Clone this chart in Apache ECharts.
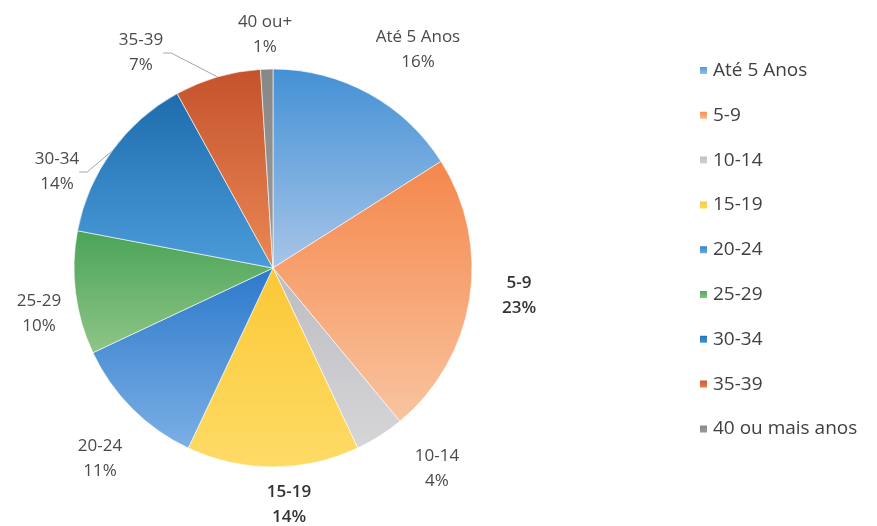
<!DOCTYPE html>
<html>
<head>
<meta charset="utf-8">
<script src="https://cdn.jsdelivr.net/npm/echarts@6/dist/echarts.min.js"></script>
<style>
  html, body { margin: 0; padding: 0; background: #ffffff; }
  #chart { width: 877px; height: 526px; }
</style>
</head>
<body>
<div id="chart"></div>
<script>
// Faixas etárias (legenda) e rótulos curtos usados nas fatias
const categories = ['Até 5 Anos', '5-9', '10-14', '15-19', '20-24', '25-29', '30-34', '35-39', '40 ou mais anos'];
const sliceLabels = ['Até 5 Anos', '5-9', '10-14', '15-19', '20-24', '25-29', '30-34', '35-39', '40 ou+'];
// Percentual de cada faixa
const shares = [16, 23, 4, 14, 11, 10, 14, 7, 1];

// Aparência
const FONT = '"Open Sans", "Noto Sans", sans-serif';
const CENTER = [273, 268];
const RADIUS = 199;
// Gradiente vertical de cada fatia: [topo, base]
const sliceColors = [
  ['#4391d5', '#a8c5e8'],
  ['#f5874c', '#f9c49f'],
  ['#bcbcc1', '#d6d6d9'],
  ['#fbc836', '#fedb66'],
  ['#2c79cb', '#7cafe5'],
  ['#4aa457', '#8fc587'],
  ['#1d6dae', '#4c9bd9'],
  ['#c5522c', '#ea8855'],
  ['#878787', '#9c9c9c']
];
// Centro de cada rótulo de fatia (px)
const labelSpots = [
  [418, 50], [519, 296], [437, 469], [289, 505], [100, 459],
  [39, 314], [57, 172], [141, 53], [265, 35]
];
const strongLabels = [1, 3];
const leaderLabels = [6, 7];

const seriesData = categories.map((name, i) => ({
  name: name,
  value: shares[i],
  itemStyle: {
    color: new echarts.graphic.LinearGradient(0, 0, 0, 1, [
      { offset: 0, color: sliceColors[i][0] },
      { offset: 1, color: sliceColors[i][1] }
    ])
  },
  label: strongLabels.includes(i)
    ? { color: '#333333', fontWeight: 600 }
    : {},
  labelLine: { show: leaderLabels.includes(i) }
}));

const chart = echarts.init(document.getElementById('chart'), null, { renderer: 'canvas' });
chart.setOption({
  animation: false,
  backgroundColor: '#ffffff',
  legend: {
    orient: 'vertical',
    left: 693,
    top: 56,
    itemWidth: 9,
    itemHeight: 9,
    itemGap: 25.8,
    icon: 'rect',
    textStyle: { fontFamily: FONT, fontSize: 19, color: '#404040', lineHeight: 18 },
    data: categories
  },
  series: [{
    type: 'pie',
    center: CENTER,
    radius: RADIUS,
    startAngle: 90,
    clockwise: true,
    avoidLabelOverlap: false,
    itemStyle: { borderColor: '#ffffff', borderWidth: 0.6 },
    label: {
      show: true,
      position: 'outside',
      fontFamily: FONT,
      fontSize: 17,
      lineHeight: 25,
      color: '#4a4a4a',
      align: 'center',
      formatter: p => sliceLabels[p.dataIndex] + '\n' + p.value + '%'
    },
    labelLine: {
      length: 12,
      length2: 8,
      lineStyle: { color: '#a6a6a6', width: 1 }
    },
    labelLayout: p => ({
      x: labelSpots[p.dataIndex][0],
      y: labelSpots[p.dataIndex][1],
      align: 'center',
      verticalAlign: 'middle'
    }),
    data: seriesData
  }]
});
</script>
</body>
</html>
